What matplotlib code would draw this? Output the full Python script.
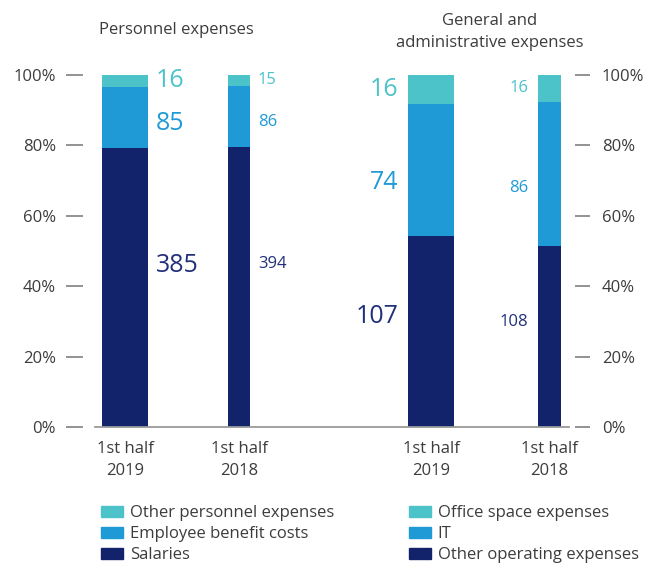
import matplotlib.pyplot as plt
import numpy as np
from matplotlib.patches import Patch

plt.rcParams['font.family'] = ['Open Sans', 'DejaVu Sans']

periods = ['1st half\n2019', '1st half\n2018', '1st half\n2019', '1st half\n2018']

# personnel expenses (left pair), general and administrative (right pair)
salaries = [385, 394]
benefits = [85, 86]
other_personnel = [16, 15]
other_operating = [107, 108]
it_costs = [74, 86]
office_space = [16, 16]

pct_ticks = [0, 20, 40, 60, 80, 100]
pct_labels = ['0%', '20%', '40%', '60%', '80%', '100%']

navy = '#12226b'
blue = '#1f9ad6'
teal = '#4cc3c9'
txt = '#3c3c3c'

bottom_vals = np.array(salaries + other_operating, dtype=float)
mid_vals = np.array(benefits + it_costs, dtype=float)
top_vals = np.array(other_personnel + office_space, dtype=float)
tot = bottom_vals + mid_vals + top_vals
b_pct = bottom_vals / tot * 100
m_pct = mid_vals / tot * 100
t_pct = top_vals / tot * 100

xs = [0, 1, 2.684, 3.724]
widths = [0.40, 0.193, 0.40, 0.20]

fig = plt.figure(figsize=(6.51, 5.64), dpi=100)
ax = fig.add_axes([95/651, 137/564, 474/651, 352/564])

ax.bar(xs, b_pct, width=widths, color=navy, linewidth=0)
ax.bar(xs, m_pct, width=widths, bottom=b_pct, color=blue, linewidth=0)
ax.bar(xs, t_pct, width=widths, bottom=b_pct + m_pct, color=teal, linewidth=0)

ax.set_xlim(-0.263, 3.895)
ax.set_ylim(0, 100)

# value labels
fracs = [0.58, 0.4, 0.5]
layers = [(bottom_vals, b_pct, np.zeros(4), '#22307a'),
          (mid_vals, m_pct, b_pct, blue),
          (top_vals, t_pct, b_pct + m_pct, teal)]
for k, (vals, h, bot, tc) in enumerate(layers):
    for i in range(4):
        fs = 18 if i in (0, 2) else 12
        y = bot[i] + h[i] * fracs[k]
        if i < 2:
            ax.annotate(str(int(vals[i])), (xs[i] + widths[i] / 2, y),
                        xytext=(8, 0), textcoords='offset pixels',
                        ha='left', va='center', fontsize=fs, color=tc)
        else:
            ax.annotate(str(int(vals[i])), (xs[i] - widths[i] / 2, y),
                        xytext=(-10, 0), textcoords='offset pixels',
                        ha='right', va='center', fontsize=fs, color=tc)

ax.set_xticks(xs)
ax.set_xticklabels(periods, fontsize=12, color=txt, linespacing=1.5)
ax.tick_params(axis='x', length=0, pad=10)

ax.set_yticks(pct_ticks)
ax.set_yticklabels(pct_labels)
ax.tick_params(axis='y', left=True, right=True, labelleft=True, labelright=True,
               length=12, width=1.3, color='#8a8a8a', labelsize=12,
               labelcolor=txt, pad=7)
ax.spines['left'].set_position(('outward', 9))
ax.spines['right'].set_position(('outward', 4.5))
for t in ax.yaxis.get_major_ticks():
    t.tick2line.set_markersize(11)
for s in ['left', 'right', 'top']:
    ax.spines[s].set_visible(False)
ax.spines['bottom'].set_color('#9a9a9a')
ax.spines['bottom'].set_linewidth(1.3)

fig.text(176/651, 1 - 30/564, 'Personnel expenses', ha='center', va='center',
         fontsize=12, color=txt)
fig.text(490/651, 1 - 32/564, 'General and\nadministrative expenses', ha='center',
         va='center', fontsize=12, color=txt, linespacing=1.5)

h1 = [Patch(color=teal), Patch(color=blue), Patch(color=navy)]
for x0, names in [(93, ['Other personnel expenses', 'Employee benefit costs', 'Salaries']),
                  (401, ['Office space expenses', 'IT', 'Other operating expenses'])]:
    fig.legend(h1, names, loc='upper left', bbox_to_anchor=(x0/651, 1 - 497/564),
               frameon=False, fontsize=12, handlelength=1.3, handleheight=0.6,
               handletextpad=0.4, labelspacing=0.3, labelcolor=txt, borderpad=0)

fig.savefig('out.png', dpi=100)
